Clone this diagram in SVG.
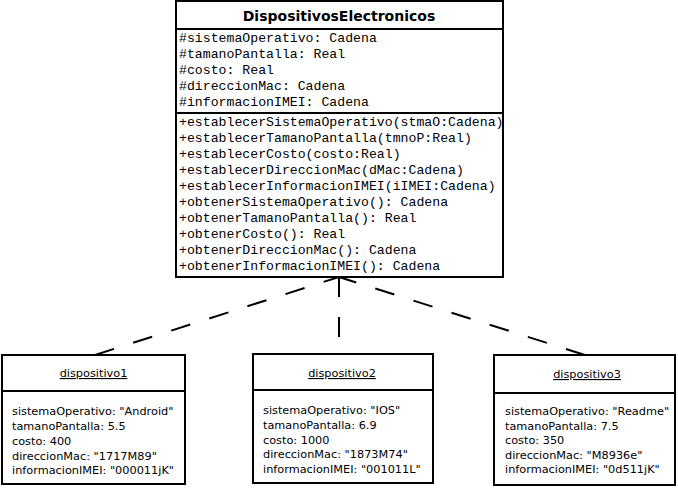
<svg xmlns="http://www.w3.org/2000/svg" width="678" height="495" viewBox="0 0 678 495">
<style>
.box{fill:#fff;stroke:#000;stroke-width:2}
.sep{stroke:#000;stroke-width:2}
.mono{font-family:"Liberation Mono","Courier New",monospace;font-size:13.2px;fill:#000}
.title{font-family:"DejaVu Sans",Tahoma,sans-serif;font-weight:bold;font-size:14px;fill:#000}
.obj{font-family:"DejaVu Sans",Tahoma,sans-serif;font-size:11.3px;fill:#000}
.objt{font-family:"DejaVu Sans",Tahoma,sans-serif;font-size:11.3px;fill:#000;text-decoration:underline}
.dash{fill:none;stroke:#000;stroke-width:2;stroke-dasharray:20 20}
</style>
<defs>
<clipPath id="clsclip"><rect x="176" y="2" width="326" height="274"/></clipPath>
</defs>
<rect width="678" height="495" fill="#fff"/>
<g id="connectors">
<path class="dash" d="M95,355 L339,277"/>
<path class="dash" d="M585,355 L339,277"/>
<path class="dash" d="M339,277 L339,354"/>
</g>
<g id="DispositivosElectronicos">
<rect class="box" x="176" y="1" width="327" height="276"/>
<line class="sep" x1="176" y1="29" x2="503" y2="29"/>
<line class="sep" x1="176" y1="113" x2="503" y2="113"/>
<text class="title" x="339" y="21" text-anchor="middle">DispositivosElectronicos</text>
<g clip-path="url(#clsclip)">
<text class="mono" x="179" y="42">#sistemaOperativo: Cadena</text>
<text class="mono" x="179" y="58">#tamanoPantalla: Real</text>
<text class="mono" x="179" y="74">#costo: Real</text>
<text class="mono" x="179" y="90">#direccionMac: Cadena</text>
<text class="mono" x="179" y="106">#informacionIMEI: Cadena</text>
<text class="mono" x="179" y="126">+establecerSistemaOperativo(stmaO:Cadena)</text>
<text class="mono" x="179" y="142">+establecerTamanoPantalla(tmnoP:Real)</text>
<text class="mono" x="179" y="158">+establecerCosto(costo:Real)</text>
<text class="mono" x="179" y="174">+establecerDireccionMac(dMac:Cadena)</text>
<text class="mono" x="179" y="190">+establecerInformacionIMEI(iIMEI:Cadena)</text>
<text class="mono" x="179" y="206">+obtenerSistemaOperativo(): Cadena</text>
<text class="mono" x="179" y="222">+obtenerTamanoPantalla(): Real</text>
<text class="mono" x="179" y="238">+obtenerCosto(): Real</text>
<text class="mono" x="179" y="254">+obtenerDireccionMac(): Cadena</text>
<text class="mono" x="179" y="270">+obtenerInformacionIMEI(): Cadena</text>
</g>
<rect x="176" y="1" width="327" height="276" fill="none" stroke="#000" stroke-width="2"/>
</g>
<g id="dispositivo1">
<rect class="box" x="2" y="355" width="183" height="129"/>
<line class="sep" x1="2" y1="391" x2="185" y2="391"/>
<text class="objt" x="93.5" y="377" text-anchor="middle">dispositivo1</text>
<text class="obj" x="12" y="415">sistemaOperativo: "Android"</text>
<text class="obj" x="12" y="430">tamanoPantalla: 5.5</text>
<text class="obj" x="12" y="445">costo: 400</text>
<text class="obj" x="12" y="460">direccionMac: "1717M89"</text>
<text class="obj" x="12" y="474">informacionIMEI: "000011jK"</text>
</g>
<g id="dispositivo2">
<rect class="box" x="253" y="354" width="180" height="129"/>
<line class="sep" x1="253" y1="390" x2="433" y2="390"/>
<text class="objt" x="342" y="377" text-anchor="middle">dispositivo2</text>
<text class="obj" x="263" y="414">sistemaOperativo: "IOS"</text>
<text class="obj" x="263" y="429">tamanoPantalla: 6.9</text>
<text class="obj" x="263" y="444">costo: 1000</text>
<text class="obj" x="263" y="458">direccionMac: "1873M74"</text>
<text class="obj" x="263" y="473">informacionIMEI: "001011L"</text>
</g>
<g id="dispositivo3">
<rect class="box" x="494" y="355" width="181" height="130"/>
<line class="sep" x1="494" y1="393" x2="675" y2="393"/>
<text class="objt" x="587" y="378" text-anchor="middle">dispositivo3</text>
<text class="obj" x="505" y="415">sistemaOperativo: "Readme"</text>
<text class="obj" x="505" y="430">tamanoPantalla: 7.5</text>
<text class="obj" x="505" y="444">costo: 350</text>
<text class="obj" x="505" y="459">direccionMac: "M8936e"</text>
<text class="obj" x="505" y="473">informacionIMEI: "0d511jK"</text>
</g>
</svg>
